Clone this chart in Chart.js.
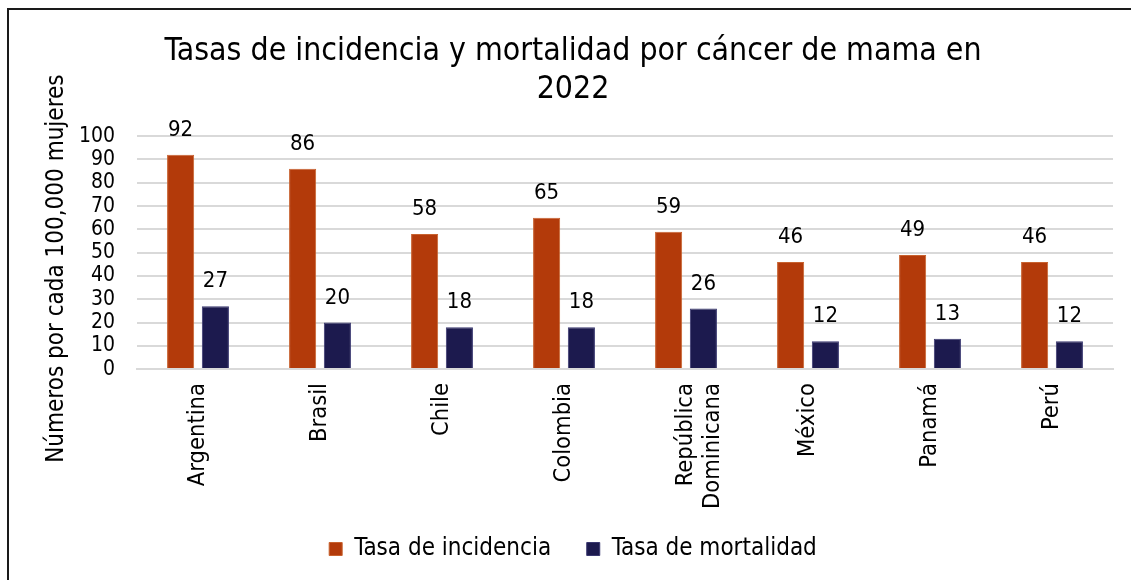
<!DOCTYPE html>
<html>
<head>
<meta charset="utf-8">
<script src="https://cdn.jsdelivr.net/npm/chart.js@4/dist/chart.umd.min.js"></script>
<style>
  html, body { margin: 0; padding: 0; background: #fff; overflow: hidden; }
  #wrap { position: relative; width: 1131px; height: 580px; }
  #frame { position: absolute; left: 7px; top: 8px; width: 1200px; height: 700px; border: 2px solid #1a1a1a; box-sizing: border-box; }
  #chart { position: absolute; left: 0; top: 0; }
</style>
</head>
<body>
<div id="wrap">
  <div id="frame"></div>
  <canvas id="chart" width="1131" height="580"></canvas>
</div>
<script>
// Datos
const paises = ['Argentina', 'Brasil', 'Chile', 'Colombia', ['República', 'Dominicana'], 'México', 'Panamá', 'Perú'];
const incidencia = [92, 86, 58, 65, 59, 46, 49, 46];
const mortalidad = [27, 20, 18, 18, 26, 12, 13, 12];
const yTicks = [0, 10, 20, 30, 40, 50, 60, 70, 80, 90, 100];
const yTitulo = 'Números por cada 100,000 mujeres';

const FONT = "'DejaVu Sans Condensed', 'DejaVu Sans', sans-serif";

// etiquetas de valor encima de cada barra + titulo del eje Y
const valueLabels = {
    id: 'valueLabels',
    afterDatasetsDraw(chart) {
        const ctx = chart.ctx;
        ctx.save();
        ctx.font = '22px ' + FONT;
        ctx.fillStyle = '#000';
        ctx.textAlign = 'center';
        ctx.textBaseline = 'alphabetic';
        chart.data.datasets.forEach((ds, i) => {
            chart.getDatasetMeta(i).data.forEach((bar, j) => {
                ctx.fillText(String(ds.data[j]), bar.x, bar.y - 19);
            });
        });
        // titulo del eje Y (un poco mas abajo que el centro del area)
        const area = chart.chartArea;
        ctx.translate(area.left - 80, (area.top + area.bottom) / 2 + 16);
        ctx.rotate(-Math.PI / 2);
        ctx.font = '24px ' + FONT;
        ctx.textBaseline = 'middle';
        ctx.fillText(yTitulo, 0, 0);
        ctx.restore();
    }
};

new Chart(document.getElementById('chart').getContext('2d'), {
    type: 'bar',
    data: {
        labels: paises,
        datasets: [
            {
                label: 'Tasa de incidencia',
                data: incidencia,
                backgroundColor: '#B33A0A',
                borderColor: '#C8622F',
                borderWidth: 1,
                categoryPercentage: 0.57,
                barPercentage: 0.78
            },
            {
                label: 'Tasa de mortalidad',
                data: mortalidad,
                backgroundColor: '#1C1A4E',
                borderColor: '#3A3870',
                borderWidth: 1,
                categoryPercentage: 0.57,
                barPercentage: 0.78
            }
        ]
    },
    options: {
        responsive: false,
        animation: false,
        layout: { padding: { left: 33, right: 18, top: 12, bottom: 9 } },
        scales: {
            x: {
                grid: { display: false, drawTicks: false },
                border: { display: true, color: '#d9d9d9', width: 2 },
                ticks: {
                    minRotation: 90,
                    maxRotation: 90,
                    padding: 14,
                    color: '#000',
                    font: { family: FONT, size: 23.5, lineHeight: 1.15 }
                }
            },
            y: {
                min: 0,
                max: 100,
                afterBuildTicks: (axis) => { axis.ticks = yTicks.map(v => ({ value: v })); },
                afterFit: (axis) => { axis.width = 104; },
                grid: { color: '#d9d9d9', lineWidth: 2, drawTicks: false },
                border: { display: false },
                ticks: {
                    autoSkip: false,
                    padding: 22,
                    color: '#000',
                    font: { family: FONT, size: 21 }
                }
            }
        },
        plugins: {
            title: {
                display: true,
                text: ['Tasas de incidencia y mortalidad por cáncer de mama en', '2022'],
                color: '#000',
                font: { family: FONT, size: 31.75, weight: 'normal', lineHeight: 1.2 },
                padding: { top: 21, bottom: 27 }
            },
            legend: {
                position: 'bottom',
                labels: {
                    color: '#000',
                    boxWidth: 13,
                    boxHeight: 13,
                    padding: 14,
                    font: { family: FONT, size: 24 },
                    generateLabels: (chart) => {
                        const items = Chart.defaults.plugins.legend.labels.generateLabels(chart);
                        items[0].text += '\u2002\u2002';
                        return items;
                    }
                }
            },
            tooltip: { enabled: false }
        }
    },
    plugins: [valueLabels]
});
</script>
</body>
</html>
